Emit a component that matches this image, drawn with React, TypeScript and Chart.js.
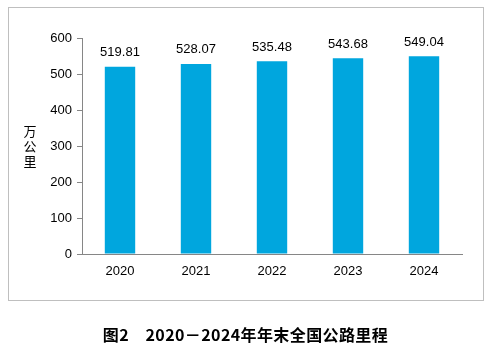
import React, { useEffect, useRef } from "react";
import { Chart, registerables } from "chart.js";

Chart.register(...registerables);

const years = ["2020", "2021", "2022", "2023", "2024"];
const mileage = [519.81, 528.07, 535.48, 543.68, 549.04];
const yTicks = [0, 100, 200, 300, 400, 500, 600];
const yTitleChars = ["万", "公", "里"];
const caption = "图2\u30002020－2024年年末全国公路里程";

const FONT = "'Liberation Sans', Arial, sans-serif";

const decorPlugin = {
  id: "decor",
  beforeDraw(chart: any) {
    const ctx = chart.ctx;
    ctx.save();
    ctx.strokeStyle = "#bfbfbf";
    ctx.lineWidth = 1;
    ctx.strokeRect(8.5, 7.5, 475, 293);
    ctx.restore();
  },
  afterDraw(chart: any) {
    const ctx = chart.ctx;
    const area = chart.chartArea;
    ctx.save();
    // y title, stacked characters
    ctx.fillStyle = "#000";
    ctx.font = "13px 'Noto Sans CJK SC', sans-serif";
    ctx.textAlign = "center";
    ctx.textBaseline = "middle";
    const midY = (area.top + area.bottom) / 2;
    const lh = 15;
    yTitleChars.forEach((c, i) => {
      ctx.fillText(c, 30, midY + (i - 1) * lh);
    });
    // data labels
    ctx.font = `13px ${FONT}`;
    ctx.textBaseline = "alphabetic";
    const meta = chart.getDatasetMeta(0);
    meta.data.forEach((el: any, i: number) => {
      ctx.fillText(mileage[i].toFixed(2), el.x, el.y - 10.5);
    });
    ctx.restore();
  },
};

export default function App() {
  const ref = useRef<HTMLCanvasElement>(null);
  useEffect(() => {
    const chart = new Chart(ref.current!, {
      type: "bar",
      data: {
        labels: years,
        datasets: [
          {
            data: mileage,
            backgroundColor: "#00A6DE",
            borderWidth: 0,
            categoryPercentage: 1,
            barPercentage: 0.4,
          },
        ],
      },
      options: {
        animation: false,
        responsive: false,
        maintainAspectRatio: false,
        events: [],
        layout: { padding: { left: 42, right: 29, top: 38, bottom: 62 } },
        plugins: { legend: { display: false }, tooltip: { enabled: false } },
        scales: {
          x: {
            grid: { display: false, drawTicks: false },
            border: { display: true, color: "#868686", width: 1 },
            ticks: { color: "#000", font: { family: FONT, size: 13 }, padding: 10, maxRotation: 0 },
            afterFit: (s: any) => {
              s.height = 30;
            },
          },
          y: {
            min: 0,
            max: 600,
            afterBuildTicks: (s: any) => {
              s.ticks = yTicks.map((v) => ({ value: v }));
            },
            grid: { display: true, drawOnChartArea: false, drawTicks: true, tickLength: 5, color: "#868686" },
            border: { display: true, color: "#868686", width: 1 },
            ticks: { color: "#000", font: { family: FONT, size: 13 }, padding: 5 },
            afterFit: (s: any) => {
              s.width = 40;
            },
          },
        },
      },
      plugins: [decorPlugin],
    });
    return () => chart.destroy();
  }, []);
  return (
    <div style={{ position: "absolute", left: 0, top: 0, width: 491, height: 346, background: "#fff" }}>
      <canvas ref={ref} width={491} height={346} style={{ position: "absolute", left: 0, top: 0 }} />
      <div
        style={{
          position: "absolute",
          left: 0,
          width: 491,
          top: 323,
          textAlign: "center",
          fontFamily: "'Noto Sans CJK SC', sans-serif",
          fontWeight: "bold",
          fontSize: 16,
          lineHeight: "22px",
          letterSpacing: "0.4px",
          color: "#000",
          whiteSpace: "pre",
        }}
      >
        {caption}
      </div>
    </div>
  );
}
